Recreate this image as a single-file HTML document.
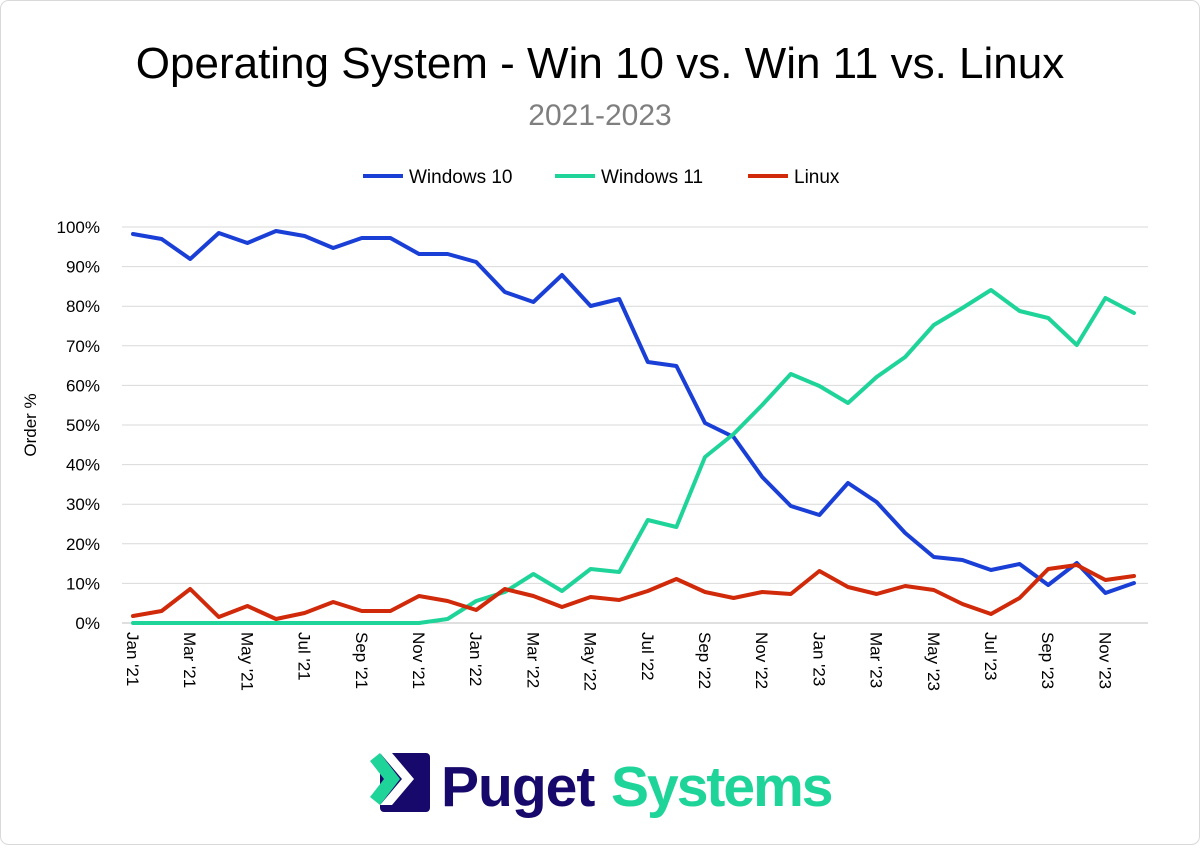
<!DOCTYPE html>
<html><head><meta charset="utf-8"><style>
html,body{margin:0;padding:0;background:#fff;}
body{width:1200px;height:845px;overflow:hidden;}
svg text{font-family:"Liberation Sans",sans-serif;}
</style></head><body>
<svg id="c" width="1200" height="845" xmlns="http://www.w3.org/2000/svg">
<rect x="0.5" y="0.5" width="1199" height="844" rx="8" fill="#fff" stroke="#d9d9d9"/>
<text x="600" y="78" text-anchor="middle" font-size="44" fill="#000" style="font-weight:500">Operating System - Win 10 vs. Win 11 vs. Linux</text>
<text x="600" y="125" text-anchor="middle" font-size="30" fill="#7f7f7f">2021-2023</text>
<line x1="363" y1="176" x2="403" y2="176" stroke="#1a3fd6" stroke-width="4"/>
<text x="409" y="183" font-size="19" fill="#000">Windows 10</text>
<line x1="555" y1="176" x2="595" y2="176" stroke="#1ed498" stroke-width="4"/>
<text x="601" y="183" font-size="19" fill="#000">Windows 11</text>
<line x1="748" y1="176" x2="788" y2="176" stroke="#d02a0a" stroke-width="4"/>
<text x="794" y="183" font-size="19" fill="#000">Linux</text>
<text transform="translate(36,425) rotate(-90)" text-anchor="middle" font-size="17" fill="#000">Order %</text>
<g id="g"></g>
<g transform="translate(370,753)">
<rect x="10" y="0" width="50" height="59" rx="4" fill="#17096b"/>
<polygon points="10,0 22,0 44,26 22,52 10,52 32,26" fill="#fff"/>
<polygon points="0,8 10,0 30,26 10,52 0,44 14,26" fill="#1ed498"/>
</g>
<text x="441" y="806" font-size="57" font-weight="bold" fill="#17096b" style="letter-spacing:-1px">Puget</text>
<text x="611" y="806" font-size="57" font-weight="bold" fill="#1ed498" style="letter-spacing:-2px">Systems</text>
</svg>
<script>
var g=document.getElementById('g'),s='';
var x0=133,dx=(1134-133)/35;
for(var i=0;i<=10;i++){var y=623-i*39.6;
s+='<line x1="122" x2="1148" y1="'+y+'" y2="'+y+'" stroke="'+(i?'#d9d9d9':'#bfbfbf')+'" stroke-width="1"/>';
s+='<text x="100" y="'+(y+6)+'" text-anchor="end" font-size="17">'+(i*10)+'%</text>';}
var m=['Jan','Mar','May','Jul','Sep','Nov'];
for(var i=0;i<36;i+=2){var x=x0+i*dx,yr=21+Math.floor(i/12);
s+='<text transform="translate('+(x-6)+',632) rotate(90)" font-size="17">'+m[(i%12)/2]+" '"+yr+'</text>';}
var w10=[234,239,259,233,243,231,236,248,238,238,254,254,262,292,302,275,306,299,362,366,423,437,477,506,515,483,502,533,557,560,570,564,585,563,593,583];
var w11=[623,623,623,623,623,623,623,623,623,623,623,619,601,592,574,591,569,572,520,527,457,434,405,374,386,403,377,357,325,308,290,311,318,345,298,313];
var lx=[616,611,589,617,606,619,613,602,611,611,596,601,610,589,596,607,597,600,591,579,592,598,592,594,571,587,594,586,590,604,614,598,569,565,580,576];
function pl(a,c){return '<polyline fill="none" stroke="'+c+'" stroke-width="4" stroke-linejoin="round" stroke-linecap="round" points="'+a.map(function(v,i){return (x0+i*dx).toFixed(1)+','+v}).join(' ')+'"/>';}
s+=pl(w10,'#1a3fd6')+pl(w11,'#1ed498')+pl(lx,'#d02a0a');
g.innerHTML=s;
</script>
</body></html>
